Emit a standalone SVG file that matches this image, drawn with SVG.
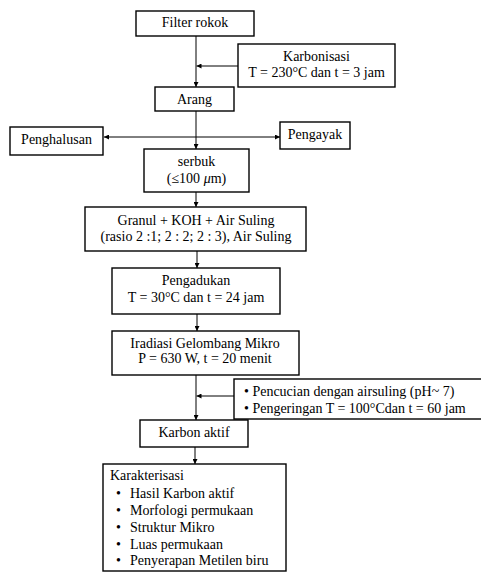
<svg xmlns="http://www.w3.org/2000/svg" width="481" height="572" viewBox="0 0 481 572">
<defs>
<marker id="ah" viewBox="0 0 10 10" refX="10" refY="5" markerWidth="5" markerHeight="5" orient="auto" markerUnits="userSpaceOnUse">
<path d="M0,0 L10,5 L0,10 z" fill="#000"/>
</marker>
<style>
.box{fill:#fff;stroke:#000;stroke-width:1.4}
.t{font-family:'Liberation Serif','Times New Roman','DejaVu Serif',serif;font-size:14px;fill:#000}
.c{text-anchor:middle}
.ln{stroke:#000;stroke-width:1;fill:none}
</style>
</defs>
<rect width="481" height="572" fill="#fff"/>
<g id="connectors">
<line class="ln" x1="196" y1="36" x2="196" y2="87" marker-end="url(#ah)"/>
<line class="ln" x1="238" y1="66" x2="196.5" y2="66" marker-end="url(#ah)"/>
<line class="ln" x1="196" y1="111" x2="196" y2="149" marker-end="url(#ah)"/>
<line class="ln" x1="196" y1="137" x2="104" y2="137" marker-end="url(#ah)"/>
<line class="ln" x1="196" y1="137" x2="280" y2="137" marker-end="url(#ah)"/>
<line class="ln" x1="196" y1="192" x2="196" y2="207" marker-end="url(#ah)"/>
<line class="ln" x1="197" y1="251" x2="197" y2="268" marker-end="url(#ah)"/>
<line class="ln" x1="197" y1="314" x2="197" y2="331" marker-end="url(#ah)"/>
<line class="ln" x1="196" y1="375" x2="196" y2="420" marker-end="url(#ah)"/>
<line class="ln" x1="234" y1="396" x2="196.5" y2="396" marker-end="url(#ah)"/>
<line class="ln" x1="195" y1="447" x2="195" y2="464" marker-end="url(#ah)"/>
</g>
<g id="filter">
<rect class="box" x="136" y="11" width="118" height="25"/>
<text class="t c" x="195" y="27" font-family="Liberation Serif, serif">Filter rokok</text>
</g>
<g id="karbonisasi">
<rect class="box" x="238" y="44" width="157" height="43"/>
<text class="t c" x="316.5" y="61">Karbonisasi</text>
<text class="t c" x="316.5" y="77">T = 230°C dan t = 3 jam</text>
</g>
<g id="arang">
<rect class="box" x="155" y="87" width="79" height="24"/>
<text class="t c" x="194.5" y="104">Arang</text>
</g>
<g id="penghalusan">
<rect class="box" x="10" y="127" width="93" height="28"/>
<text class="t c" x="56.5" y="144">Penghalusan</text>
</g>
<g id="pengayak">
<rect class="box" x="280" y="122" width="70" height="27"/>
<text class="t c" x="315" y="139">Pengayak</text>
</g>
<g id="serbuk">
<rect class="box" x="144" y="149" width="105" height="43"/>
<text class="t c" x="196.5" y="166">serbuk</text>
<text class="t c" x="196.5" y="183">(≤100 <tspan font-style="italic">μ</tspan>m)</text>
</g>
<g id="granul">
<rect class="box" x="85" y="207" width="221" height="44"/>
<text class="t c" x="196" y="225">Granul + KOH + Air Suling</text>
<text class="t c" x="196" y="241">(rasio 2 :1; 2 : 2; 2 : 3), Air Suling</text>
</g>
<g id="pengadukan">
<rect class="box" x="112" y="268" width="168" height="46"/>
<text class="t c" x="196" y="285">Pengadukan</text>
<text class="t c" x="196" y="302">T = 30°C dan t = 24 jam</text>
</g>
<g id="iradiasi">
<rect class="box" x="112" y="331" width="187" height="44"/>
<text class="t c" x="205" y="348">Iradiasi Gelombang Mikro</text>
<text class="t c" x="205" y="363">P = 630 W, t = 20 menit</text>
</g>
<g id="pencucian">
<rect class="box" x="234" y="379" width="250" height="40"/>
<text class="t" x="244" y="396">• Pencucian dengan airsuling (pH~ 7)</text>
<text class="t" x="244" y="413">• Pengeringan T = 100°Cdan t = 60 jam</text>
</g>
<g id="karbon">
<rect class="box" x="140" y="420" width="108" height="27"/>
<text class="t c" x="194" y="437">Karbon aktif</text>
</g>
<g id="karakterisasi">
<rect class="box" x="103" y="464" width="183" height="107"/>
<text class="t" x="110" y="480">Karakterisasi</text>
<text class="t" x="116" y="498">•</text><text class="t" x="130" y="498">Hasil Karbon aktif</text>
<text class="t" x="116" y="515">•</text><text class="t" x="130" y="515">Morfologi permukaan</text>
<text class="t" x="116" y="532">•</text><text class="t" x="130" y="532">Struktur Mikro</text>
<text class="t" x="116" y="549">•</text><text class="t" x="130" y="549">Luas permukaan</text>
<text class="t" x="116" y="565">•</text><text class="t" x="130" y="565">Penyerapan Metilen biru</text>
</g>
</svg>
